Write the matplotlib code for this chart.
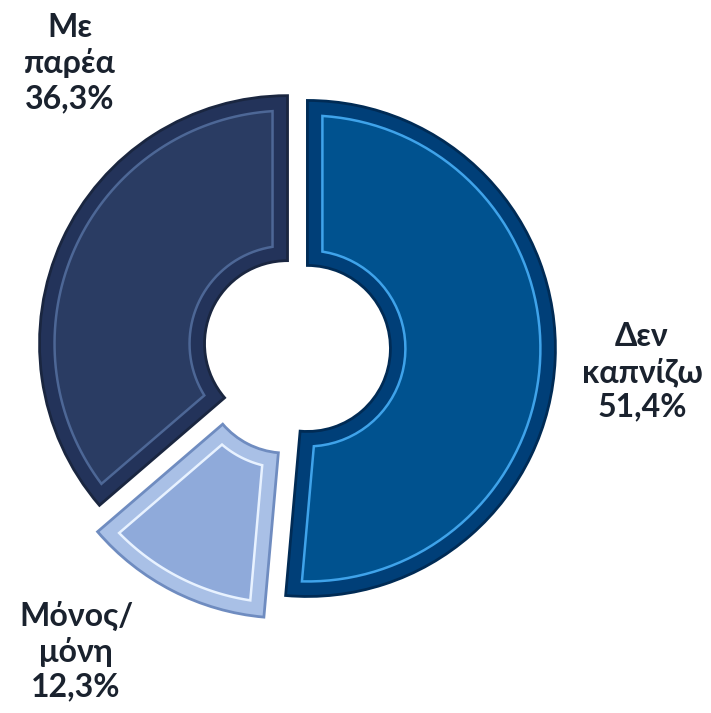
import numpy as np
import matplotlib
matplotlib.use("Agg")
import matplotlib.pyplot as plt
from matplotlib.patches import Polygon

# Smoking habits
labels = ["Δεν\nκαπνίζω", "Μόνος/\nμόνη", "Με\nπαρέα"]
shares = [51.4, 12.3, 36.3]
value_text = ["51,4%", "12,3%", "36,3%"]

face = ["#00528F", "#8FAADA", "#2A3C63"]
band = ["#003F78", "#A9C0E6", "#23335A"]
edge = ["#002B55", "#6F8CC0", "#1A2640"]
shine = ["#3FA3EA", "#E8F2FF", "#4D6796"]

W, H = 711, 713
R = 248.0
HOLE = 83.0
BEVEL = 15.0


def inset_polygon(w, d):
    """Outline of a wedge shrunk by d on every side."""
    cx, cy = w.center
    ro, ri = w.r - d, w.r - w.width + d
    t1, t2 = w.theta1, w.theta2
    do = np.degrees(np.arcsin(d / ro))
    di = np.degrees(np.arcsin(d / ri))
    a_out = np.radians(np.linspace(t1 + do, t2 - do, 80))
    a_in = np.radians(np.linspace(t2 - di, t1 + di, 40))
    xs = np.r_[cx + ro * np.cos(a_out), cx + ri * np.cos(a_in)]
    ys = np.r_[cy + ro * np.sin(a_out), cy + ri * np.sin(a_in)]
    return np.c_[xs, ys]


fig = plt.figure(figsize=(W / 100, H / 100), dpi=100)
ax = fig.add_axes([0, 0, 1, 1])

explode = [0.042 * R, 0.10 * R, 0.042 * R]
wedges, _ = ax.pie(shares, startangle=90, counterclock=False, radius=R,
                   center=(297, H - 348), explode=explode, frame=True,
                   wedgeprops=dict(width=R - HOLE, linewidth=2.0))
ax.set_xlim(0, W)
ax.set_ylim(0, H)
ax.axis("off")

for i, w in enumerate(wedges):
    w.set_facecolor(band[i])
    w.set_edgecolor(edge[i])
    ax.add_patch(Polygon(inset_polygon(w, BEVEL), closed=True,
                         facecolor=face[i], edgecolor=shine[i],
                         linewidth=1.8, zorder=3))

font = dict(family=["Lato", "DejaVu Sans"], fontsize=23, fontweight="bold",
            color="#1A222E", ha="center", va="center", linespacing=1.24)
label_xy = [(642, 372), (76, 651), (70, 63)]
for (x, y), lab, val in zip(label_xy, labels, value_text):
    ax.text(x, H - y, lab + "\n" + val, **font)

fig.savefig("out.png", dpi=100)
